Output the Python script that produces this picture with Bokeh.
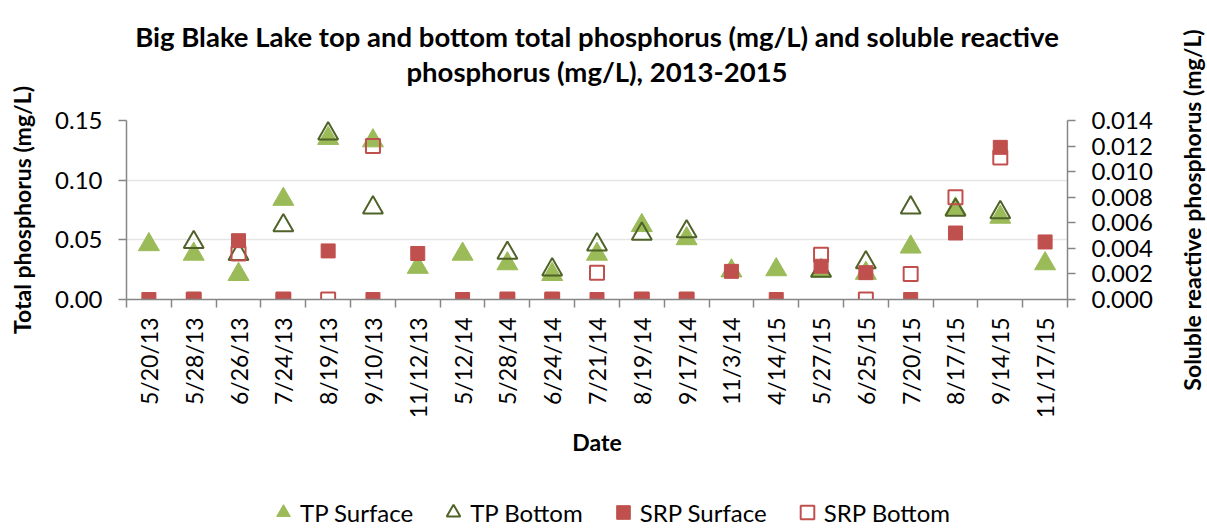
import math
from bokeh.plotting import figure
from bokeh.layouts import row, column
from bokeh.models import (Range1d, LinearAxis, FixedTicker, NumeralTickFormatter,
                          Legend, LegendItem, ColumnDataSource, Title)
from bokeh.embed import file_html
from bokeh.resources import INLINE

nan = float("nan")

dates = ["5/20/13", "5/28/13", "6/26/13", "7/24/13", "8/19/13", "9/10/13", "11/12/13",
         "5/12/14", "5/28/14", "6/24/14", "7/21/14", "8/19/14", "9/17/14", "11/3/14",
         "4/14/15", "5/27/15", "6/25/15", "7/20/15", "8/17/15", "9/14/15", "11/17/15"]

tp_surface = [0.046, 0.038, 0.021, 0.084, 0.135, 0.133, 0.027, 0.038, 0.030, 0.021, 0.038,
              0.062, 0.051, 0.024, 0.025, 0.024, 0.022, 0.044, 0.076, 0.069, 0.030]
tp_bottom = [nan, 0.048, 0.038, 0.062, 0.139, 0.077, nan, nan, 0.039, 0.025, 0.046,
             0.055, 0.057, nan, nan, 0.024, 0.031, 0.077, 0.075, 0.073, nan]
srp_surface = [0.0, 0.0, 0.0046, 0.0, 0.0038, 0.0, 0.0036, 0.0, 0.0, 0.0, 0.0,
               0.0, 0.0, 0.0022, 0.0, 0.0026, 0.0021, 0.0, 0.0052, 0.0119, 0.0045]
srp_bottom = [nan, 0.0, 0.0036, 0.0, 0.0, 0.0120, nan, nan, 0.0, 0.0, 0.0021,
              0.0, 0.0, nan, nan, 0.0035, 0.0, 0.0020, 0.0080, 0.0111, nan]

tp_ticks = [0.0, 0.05, 0.10, 0.15]
srp_ticks = [0.000, 0.002, 0.004, 0.006, 0.008, 0.010, 0.012, 0.014]

title_lines = ["Big Blake Lake top and bottom total phosphorus (mg/L) and soluble reactive",
               "phosphorus (mg/L), 2013-2015"]
series_names = ["TP Surface", "TP Bottom", "SRP Surface", "SRP Bottom"]
series_cols = ["tps", "tpb", "srps", "srpb"]

FONT = "Lato"
n = len(dates)
xs = [i + 0.5 for i in range(n)]

src = ColumnDataSource(dict(x=xs, tps=tp_surface, tpb=tp_bottom, srps=srp_surface, srpb=srp_bottom))

p = figure(frame_width=941, frame_height=179, output_backend="svg", toolbar_location=None,
           x_range=Range1d(0, n), y_range=Range1d(0, 0.15),
           min_border_left=126, min_border_right=100, min_border_top=120, min_border_bottom=180)
p.extra_y_ranges = {"srp": Range1d(0, 0.014)}
p.outline_line_color = None
p.background_fill_color = "white"
p.title = None

# title: spacer nearest the frame, then line 2, then line 1
gap_top = Title(text=" ", text_font_size="10px", standoff=20)
t2 = Title(text=title_lines[1], align="center", text_font=FONT, text_font_size="27.5px",
           text_font_style="bold", text_color="black", standoff=0)
t1 = Title(text=title_lines[0], align="center", text_font=FONT, text_font_size="27.5px",
           text_font_style="bold", text_color="black", standoff=0)
p.add_layout(gap_top, "above")
p.add_layout(t2, "above")
p.add_layout(t1, "above")

axis_col = "#868686"
# x axis
xa = p.xaxis[0]
xa.ticker = FixedTicker(ticks=xs, minor_ticks=list(range(n + 1)))
xa.major_label_overrides = {x: d for x, d in zip(xs, dates)}
xa.major_label_orientation = math.pi / 2
xa.major_tick_line_color = None
xa.minor_tick_out = 8
xa.minor_tick_in = 0
xa.minor_tick_line_color = axis_col
xa.minor_tick_line_width = 1.5
xa.axis_line_color = axis_col
xa.axis_line_width = 1.5
xa.major_label_text_font = FONT
xa.major_label_text_font_size = "23px"
xa.major_label_text_color = "black"
xa.major_label_standoff = 10
xa.axis_label = "Date"
xa.axis_label_text_font = FONT
xa.axis_label_text_font_size = "23px"
xa.axis_label_text_font_style = "bold"
xa.axis_label_text_color = "black"
xa.axis_label_standoff = 7

# left axis
ya = p.yaxis[0]
ya.ticker = FixedTicker(ticks=tp_ticks)
ya.formatter = NumeralTickFormatter(format="0.00")
ya.axis_label = "Total phosphorus (mg/L)"

# right axis (its title is drawn by the narrow panel to the right)
ra = LinearAxis(y_range_name="srp", ticker=FixedTicker(ticks=srp_ticks),
                formatter=NumeralTickFormatter(format="0.000"))
p.add_layout(ra, "right")

for a in (ya, ra):
    a.minor_tick_line_color = None
    a.major_tick_out = 8
    a.major_tick_in = 0
    a.major_tick_line_color = axis_col
    a.major_tick_line_width = 1.5
    a.axis_line_color = axis_col
    a.axis_line_width = 1.5
    a.major_label_text_font = FONT
    a.major_label_text_font_size = "24px"
    a.major_label_text_color = "black"
    a.major_label_standoff = 16
    a.axis_label_text_font = FONT
    a.axis_label_text_font_size = "23px"
    a.axis_label_text_font_style = "bold"
    a.axis_label_text_color = "black"
ya.axis_label_standoff = 16

p.xgrid.grid_line_color = None
p.ygrid.ticker = FixedTicker(ticks=tp_ticks)
p.ygrid.grid_line_color = "#E6E6E6"
p.ygrid.grid_line_width = 1.5

styles = [dict(marker="triangle", size=21, fill_color="#9BBB59", line_color="#9BBB59", line_width=1),
          dict(marker="triangle", size=20, fill_color=None, line_color="#4F6228", line_width=2),
          dict(marker="square", size=14, fill_color="#C0504D", line_color="#C0504D", line_width=1),
          dict(marker="square", size=14, fill_color=None, line_color="#C0504D", line_width=2)]

p.scatter("x", "tps", source=src, **styles[0])
p.scatter("x", "tpb", source=src, **styles[1])
p.scatter("x", "srps", source=src, y_range_name="srp", **styles[2])
p.scatter("x", "srpb", source=src, y_range_name="srp", **styles[3])

# narrow panel carrying the secondary axis title (reads bottom to top)
side = figure(width=40, height=479, output_backend="svg", toolbar_location=None,
              x_range=Range1d(0, 1), y_range=Range1d(0, 1),
              min_border_left=38, min_border_right=0, min_border_top=100, min_border_bottom=175)
side.title = None
side.outline_line_color = None
side.xaxis.visible = False
side.grid.grid_line_color = None
sa = side.yaxis[0]
sa.ticker = FixedTicker(ticks=[])
sa.axis_line_color = None
sa.major_tick_line_color = None
sa.minor_tick_line_color = None
sa.axis_label = "Soluble reactive phosphorus (mg/L)"
sa.axis_label_text_font = FONT
sa.axis_label_text_font_size = "23px"
sa.axis_label_text_font_style = "bold"
sa.axis_label_text_color = "black"
sa.axis_label_standoff = 0

# legend strip below the chart; its renderers use the same data but lie outside its view
leg = figure(width=1207, height=50, output_backend="svg", toolbar_location=None,
             x_range=Range1d(0, 1), y_range=Range1d(10, 11),
             min_border_left=0, min_border_right=0, min_border_top=0, min_border_bottom=0)
leg.title = None
leg.outline_line_color = None
leg.axis.visible = False
leg.grid.grid_line_color = None
leg_renderers = [leg.scatter("x", col, source=src, **st) for col, st in zip(series_cols, styles)]
legend = Legend(items=[LegendItem(label=nm, renderers=[r]) for nm, r in zip(series_names, leg_renderers)],
                orientation="horizontal", location=(266, 0),
                label_text_font=FONT, label_text_font_size="24px", label_text_color="black",
                glyph_width=34, glyph_height=34, label_standoff=0, spacing=23,
                border_line_color=None, background_fill_alpha=0, margin=0, padding=0)
leg.add_layout(legend, "center")

layout = column(row(p, side), leg)
open("out.html", "w").write(file_html(layout, INLINE))
